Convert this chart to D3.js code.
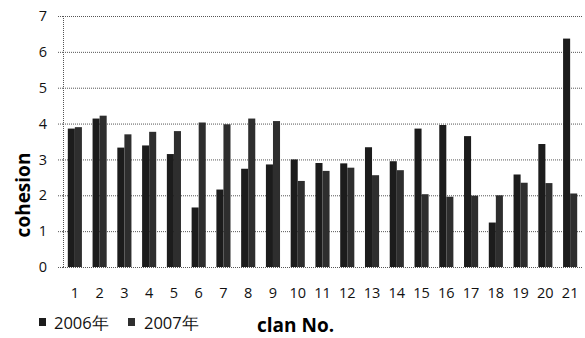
<!DOCTYPE html>
<html><head><meta charset="utf-8">
<script src="https://cdn.jsdelivr.net/npm/d3@7"></script>
<style>body{margin:0;background:#fff}svg{display:block}</style>
</head><body>
<svg id="c" width="585" height="338"></svg>
<script>
const categories = ["1","2","3","4","5","6","7","8","9","10","11","12","13","14","15","16","17","18","19","20","21"];
const series2006 = [3.86,4.14,3.33,3.39,3.15,1.66,2.16,2.74,2.86,3.0,2.9,2.89,3.34,2.95,3.86,3.96,3.65,1.24,2.58,3.43,6.37];
const series2007 = [3.9,4.22,3.7,3.77,3.79,4.03,3.98,4.14,4.07,2.4,2.68,2.77,2.56,2.7,2.03,1.96,1.99,2.0,2.35,2.34,2.05];
const seriesNames = ["2006年","2007年"];
const yTicks = [0,1,2,3,4,5,6,7];

const svg = d3.select("#c");
const font = "'Open Sans', 'Liberation Sans', sans-serif";
const x = d3.scaleBand().domain(categories).range([62.6, 582.4]).paddingInner(0.43).paddingOuter(0.21);
const x1 = d3.scaleBand().domain(seriesNames).range([0, x.bandwidth()]);
const y = d3.scaleLinear().domain([0,7]).range([267, 16]);
const colors = {"2006年":"#1c1c1c","2007年":"#2e2e2e"};

// gridlines
svg.append("g").selectAll("line").data(yTicks).join("line")
  .attr("x1", 63).attr("x2", 583)
  .attr("y1", d=>y(d)+0.5).attr("y2", d=>y(d)+0.5)
  .attr("stroke", "#555").attr("stroke-width", 1).attr("stroke-dasharray", "1,1");
// y axis line
svg.append("line").attr("x1",63.5).attr("x2",63.5).attr("y1",y(7)).attr("y2",y(0))
  .attr("stroke","#555").attr("stroke-dasharray","1,1");
// small ticks left of axis
svg.append("g").selectAll("line").data(yTicks).join("line")
  .attr("x1",58).attr("x2",63).attr("y1",d=>y(d)+0.5).attr("y2",d=>y(d)+0.5)
  .attr("stroke","#555").attr("stroke-dasharray","1,1");

// bars
const data = categories.map((c,i)=>({c, vals:[{s:"2006年",v:series2006[i]},{s:"2007年",v:series2007[i]}]}));
const g = svg.append("g");
g.selectAll("g").data(data).join("g")
  .attr("transform", d=>`translate(${x(d.c)},0)`)
  .selectAll("rect").data(d=>d.vals).join("rect")
  .attr("x", d=>x1(d.s)).attr("width", x1.bandwidth())
  .attr("y", d=>y(d.v)).attr("height", d=>y(0)-y(d.v))
  .attr("fill", d=>colors[d.s]);

// y tick labels
svg.append("g").selectAll("text").data(yTicks).join("text")
  .attr("x", 47).attr("y", d=>y(d)).attr("dy","0.35em").attr("text-anchor","end")
  .attr("font-family", font).attr("font-size", 14.5).attr("fill","#111").text(d=>d);
// x tick labels
svg.append("g").selectAll("text").data(categories).join("text")
  .attr("x", d=>x(d)+x.bandwidth()/2).attr("y", 298).attr("text-anchor","middle")
  .attr("font-family", font).attr("font-size", 14.5).attr("fill","#111").text(d=>d);

// y title
svg.append("text").attr("transform","translate(30,195) rotate(-90)").attr("text-anchor","middle")
  .attr("font-family", font).attr("font-weight","bold").attr("font-size",19).attr("fill","#000").text("cohesion");

// legend
const leg = [{s:"2006年",sx:39,tx:54},{s:"2007年",sx:128,tx:144}];
leg.forEach(l=>{
  svg.append("rect").attr("x",l.sx).attr("y",318).attr("width",7).attr("height",8).attr("fill",colors[l.s]);
  svg.append("text").attr("x",l.tx).attr("y",329).attr("font-family",font).attr("font-size",16.5).attr("fill","#111").text(l.s);
});
svg.append("text").attr("x",257).attr("y",332).attr("font-family",font).attr("font-weight","bold").attr("font-size",19).attr("fill","#000").text("clan No.");
</script>
</body></html>
